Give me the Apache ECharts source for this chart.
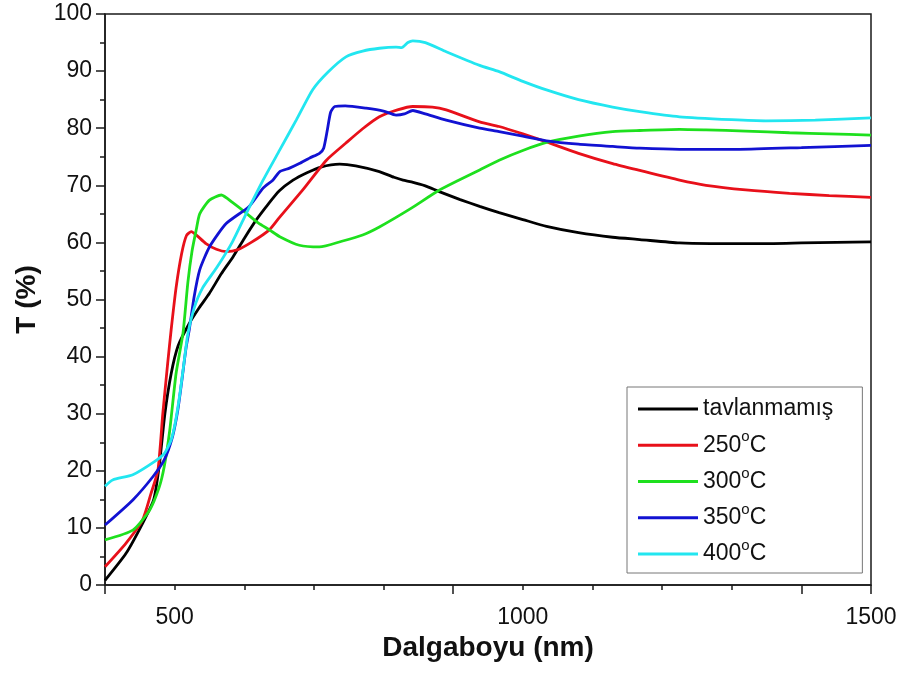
<!DOCTYPE html>
<html>
<head>
<meta charset="utf-8">
<script src="https://cdn.jsdelivr.net/npm/echarts@6/dist/echarts.min.js"></script>
<style>
  html, body { margin: 0; padding: 0; background: #ffffff; }
  #chart { width: 904px; height: 675px; }
</style>
</head>
<body>
<div id="chart"></div>
<script>
// ---- data (wavelength in nm, transmittance in %) ----
const seriesNames = ['tavlanmamış', '250°C', '300°C', '350°C', '400°C'];
const seriesColors = ['#000000', '#e8101a', '#1ee01e', '#1212d2', '#22e6f0'];

const wlBlack = [400, 430, 454, 470, 478, 486, 495, 505, 521, 535, 550, 567, 584, 600, 617, 635, 650, 670, 690, 710, 737, 760, 794, 815, 828, 840, 860, 880, 910, 938, 966, 1000, 1034, 1080, 1129, 1168, 1225, 1270, 1311, 1360, 1400, 1450, 1500];
const tBlack  = [0.8, 5.5, 10.8, 15, 21, 30, 37, 41.9, 45.8, 48.5, 51.1, 54.5, 57.5, 60.7, 63.9, 66.8, 69.0, 70.9, 72.2, 73.2, 73.7, 73.4, 72.4, 71.4, 70.9, 70.6, 69.9, 68.9, 67.5, 66.3, 65.2, 64.0, 62.8, 61.7, 60.9, 60.5, 59.9, 59.8, 59.8, 59.8, 59.9, 60.0, 60.1];

const wl250 = [400, 430, 454, 466, 476, 483, 490, 495, 502, 510, 517, 524, 532, 545, 560, 574, 590, 610, 636, 650, 684, 718, 746, 770, 794, 820, 842, 870, 890, 938, 966, 1000, 1034, 1080, 1129, 1168, 1225, 1263, 1320, 1383, 1440, 1500];
const t250  = [3.2, 7.3, 11.4, 16, 20.1, 30, 38.8, 44.7, 52, 58, 61.2, 61.9, 61.2, 59.8, 58.8, 58.4, 58.7, 60, 62.2, 64.3, 69.2, 74.4, 77.4, 79.9, 82, 83.2, 83.8, 83.7, 83.2, 81.1, 80.3, 79, 77.6, 75.6, 73.8, 72.6, 70.9, 70, 69.2, 68.6, 68.2, 67.9];

const wl300 = [400, 440, 464, 478, 485, 493, 502, 512, 519, 525, 531, 536, 550, 567, 583, 603, 620, 636, 651, 679, 708, 740, 770, 794, 840, 878, 910, 938, 966, 1000, 1034, 1080, 1129, 1168, 1225, 1263, 1320, 1383, 1440, 1500];
const t300  = [7.9, 9.6, 13.1, 17.2, 20.7, 27.1, 37, 44.1, 53, 58.5, 62.2, 65, 67.4, 68.3, 67, 65.1, 63.4, 62.2, 61, 59.5, 59.2, 60.2, 61.3, 62.7, 66, 69, 71, 72.7, 74.4, 76.1, 77.5, 78.6, 79.4, 79.6, 79.8, 79.7, 79.5, 79.2, 79, 78.8];

const wl350 = [400, 440, 469, 485, 497, 504.5, 510, 516.6, 521, 528, 536, 550, 574, 607, 627, 641, 651, 665, 679, 694, 708, 714, 719, 724, 730, 745, 775, 800, 818, 830, 842, 860, 890, 938, 966, 1000, 1034, 1080, 1129, 1168, 1225, 1311, 1400, 1500];
const t350  = [10.5, 14.9, 19, 21.9, 26, 30.6, 35.5, 41.7, 44.7, 50.5, 55.2, 59.2, 63.3, 66.3, 69.5, 70.9, 72.4, 73, 73.8, 74.8, 75.6, 76.5, 79.5, 82.8, 83.8, 83.9, 83.5, 83, 82.3, 82.5, 83.1, 82.5, 81.4, 80, 79.4, 78.6, 77.8, 77.2, 76.8, 76.5, 76.3, 76.3, 76.6, 77];

const wl400 = [400, 411, 440, 471, 485, 495, 501, 507, 513, 519, 528, 540, 560, 583, 603, 627, 651, 675, 698, 720, 746, 770, 794, 818, 826, 835, 842, 860, 890, 938, 966, 1000, 1034, 1080, 1129, 1168, 1225, 1300, 1349, 1420, 1500];
const t400  = [17.3, 18.4, 19.3, 21.6, 23, 25.4, 28.5, 33, 38.5, 44, 48.5, 52, 55.5, 60.1, 65.1, 70.9, 76.2, 81.5, 86.7, 89.8, 92.5, 93.5, 94, 94.2, 94.1, 95, 95.3, 95, 93.4, 91, 89.9, 88.2, 86.7, 85, 83.7, 82.9, 82, 81.5, 81.3, 81.4, 81.8];

const xTickLabels = [500, 1000, 1500];
const yTickLabels = [0, 10, 20, 30, 40, 50, 60, 70, 80, 90, 100];

// ---- build options ----
const wls = [wlBlack, wl250, wl300, wl350, wl400];
const ts = [tBlack, t250, t300, t350, t400];
const FONT = '"Liberation Sans", Arial, sans-serif';

const series = seriesNames.map((name, i) => ({
  name: name,
  type: 'line',
  xAxisIndex: 0,
  yAxisIndex: 0,
  data: wls[i].map((w, k) => [w, ts[i][k]]),
  showSymbol: false,
  symbol: 'none',
  smooth: 0.2,
  lineStyle: { color: seriesColors[i], width: 2.8 },
  itemStyle: { color: seriesColors[i] },
  emphasis: { disabled: true },
  animation: false
}));

const chart = echarts.init(document.getElementById('chart'), null, { renderer: 'canvas' });
chart.setOption({
  backgroundColor: '#ffffff',
  animation: false,
  grid: {
    left: 105, right: 33, top: 14, bottom: 90,
    show: true, borderColor: '#1a1a1a', borderWidth: 1.5, backgroundColor: 'transparent'
  },
  xAxis: [
    {
      type: 'value', min: 400, max: 1500, interval: 100, position: 'bottom',
      name: 'Dalgaboyu (nm)', nameLocation: 'middle', nameGap: 49,
      nameTextStyle: { fontFamily: FONT, fontSize: 28, fontWeight: 'bold', color: '#111' },
      axisLine: { show: true, onZero: false, lineStyle: { color: '#1a1a1a', width: 1.5 } },
      axisTick: { show: true, inside: false, length: 5, lineStyle: { color: '#1a1a1a', width: 1.5 } },
      axisLabel: {
        fontFamily: FONT, fontSize: 23, color: '#111', margin: 21,
        formatter: v => (xTickLabels.indexOf(v) >= 0 ? String(v) : '')
      },
      splitLine: { show: false }
    },
    {
      type: 'value', min: 400, max: 1500, interval: 500, position: 'bottom',
      axisLine: { show: false },
      axisTick: { show: true, inside: false, length: 9, lineStyle: { color: '#1a1a1a', width: 1.5 } },
      axisLabel: { show: false },
      splitLine: { show: false }
    }
  ],
  yAxis: {
    type: 'value', min: 0, max: 100, interval: 10,
    name: 'T (%)', nameLocation: 'middle', nameGap: 64, nameRotate: 90,
    nameTextStyle: { fontFamily: FONT, fontSize: 28, fontWeight: 'bold', color: '#111' },
    axisLine: { show: true, lineStyle: { color: '#1a1a1a', width: 1.5 } },
    axisTick: { show: true, inside: false, length: 9, lineStyle: { color: '#1a1a1a', width: 1.5 } },
    minorTick: { show: true, splitNumber: 2, length: 5, lineStyle: { color: '#1a1a1a', width: 1.5 } },
    axisLabel: {
      fontFamily: FONT, fontSize: 23, color: '#111', margin: 13,
      formatter: v => (yTickLabels.indexOf(v) >= 0 ? String(v) : '')
    },
    splitLine: { show: false },
    minorSplitLine: { show: false }
  },
  legend: {
    data: seriesNames.map((n, i) => ({ name: n, icon: 'rect', itemStyle: { color: seriesColors[i] } })),
    orient: 'vertical',
    left: 627, top: 387,
    padding: [6.5, 29, 3.5, 11],
    itemWidth: 60, itemHeight: 3, itemGap: 5.25,
    backgroundColor: '#ffffff',
    borderColor: '#777777', borderWidth: 1, borderRadius: 0,
    selectedMode: false,
    formatter: name => name.replace('°', '{s|o}'),
    textStyle: {
      fontFamily: FONT, fontSize: 23, color: '#111', lineHeight: 31,
      rich: {
        s: { fontFamily: FONT, fontSize: 15, color: '#111', lineHeight: 10, padding: [0, 0, 16, 0] }
      }
    }
  },
  series: series
});
</script>
</body>
</html>
